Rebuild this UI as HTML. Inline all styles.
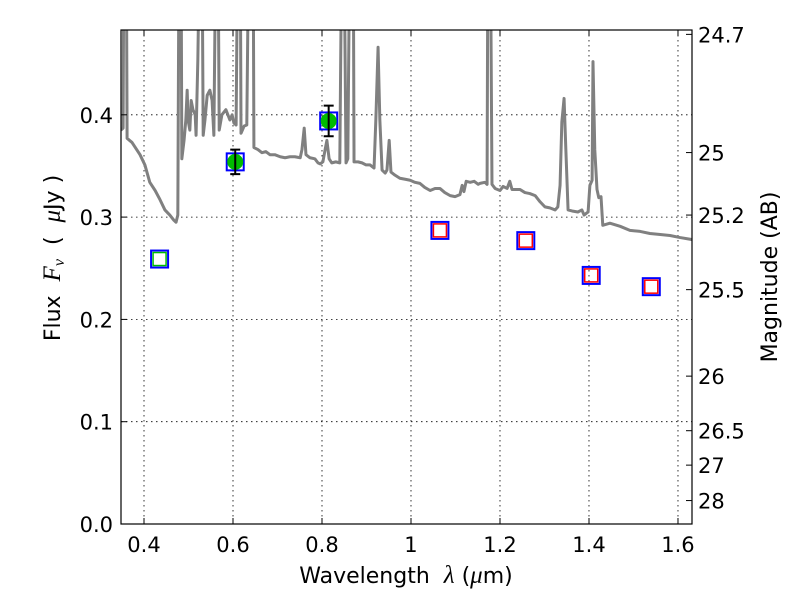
<!DOCTYPE html>
<html><head><meta charset="utf-8"><style>
body{margin:0;background:#fff;}
svg text{font-family:"DejaVu Sans","Liberation Sans",sans-serif;}
</style></head><body>
<svg id="chart" width="800" height="600" xmlns="http://www.w3.org/2000/svg"></svg>
<script>
const xTicks=[0.4,0.6,0.8,1.0,1.2,1.4,1.6];
const xTickLabels=["0.4","0.6","0.8","1","1.2","1.4","1.6"];
const yTicks=[0,0.1,0.2,0.3,0.4];
const yTickLabels=["0.0","0.1","0.2","0.3","0.4"];
const magTicks=[24.7,25,25.2,25.5,26,26.5,27,28];
const magTickLabels=["24.7","25","25.2","25.5","26","26.5","27","28"];
const specWave=[0.348,0.353,0.355,0.360,0.362,0.373,0.391,0.402,0.413,0.425,0.436,0.447,0.458,0.467,0.472,0.476,0.479,0.483,0.485,0.490,0.494,0.497,0.499,0.503,0.506,0.510,0.515,0.517,0.521,0.526,0.530,0.533,0.537,0.542,0.548,0.553,0.557,0.562,0.566,0.569,0.575,0.584,0.593,0.598,0.602,0.607,0.611,0.616,0.618,0.625,0.631,0.636,0.640,0.645,0.647,0.656,0.665,0.674,0.683,0.694,0.706,0.717,0.728,0.739,0.751,0.755,0.760,0.764,0.773,0.784,0.791,0.796,0.802,0.807,0.811,0.816,0.822,0.831,0.840,0.845,0.849,0.854,0.858,0.863,0.870,0.872,0.881,0.890,0.899,0.908,0.917,0.921,0.926,0.930,0.935,0.942,0.946,0.951,0.955,0.964,0.975,0.987,0.998,1.009,1.020,1.031,1.043,1.054,1.065,1.076,1.088,1.099,1.110,1.115,1.119,1.124,1.133,1.142,1.151,1.155,1.166,1.171,1.173,1.178,1.182,1.189,1.200,1.207,1.216,1.222,1.227,1.234,1.245,1.256,1.267,1.279,1.290,1.301,1.312,1.324,1.330,1.335,1.339,1.344,1.348,1.353,1.362,1.375,1.384,1.389,1.398,1.402,1.407,1.409,1.413,1.418,1.422,1.427,1.431,1.447,1.470,1.492,1.515,1.537,1.560,1.582,1.605,1.632];
const specFlux=[0.385,0.387,0.6,0.6,0.377,0.373,0.361,0.351,0.334,0.326,0.317,0.307,0.302,0.297,0.295,0.302,0.6,0.6,0.357,0.375,0.395,0.424,0.395,0.385,0.414,0.405,0.400,0.380,0.454,0.6,0.6,0.380,0.395,0.419,0.424,0.414,0.380,0.6,0.6,0.385,0.400,0.405,0.395,0.400,0.392,0.390,0.6,0.6,0.382,0.389,0.390,0.6,0.6,0.6,0.368,0.366,0.363,0.364,0.361,0.361,0.359,0.358,0.359,0.359,0.358,0.366,0.387,0.361,0.358,0.357,0.353,0.352,0.354,0.366,0.375,0.357,0.353,0.354,0.353,0.6,0.6,0.353,0.357,0.6,0.6,0.354,0.354,0.353,0.351,0.351,0.348,0.395,0.466,0.395,0.346,0.343,0.346,0.375,0.344,0.341,0.338,0.337,0.336,0.334,0.333,0.329,0.326,0.328,0.328,0.324,0.321,0.320,0.322,0.331,0.325,0.335,0.334,0.335,0.332,0.333,0.334,0.332,0.6,0.6,0.332,0.328,0.326,0.330,0.328,0.335,0.327,0.327,0.327,0.324,0.323,0.321,0.315,0.310,0.309,0.307,0.310,0.331,0.393,0.416,0.366,0.307,0.306,0.305,0.307,0.302,0.305,0.331,0.336,0.452,0.366,0.327,0.319,0.320,0.292,0.294,0.291,0.287,0.286,0.284,0.283,0.282,0.280,0.278];
const detWave=[0.605,0.815];
const detFlux=[0.354,0.394];
const detErr=[0.012,0.015];
const greenSqWave=[0.435];
const greenSqFlux=[0.259];
const redSqWave=[1.065,1.258,1.405,1.540];
const redSqFlux=[0.287,0.277,0.243,0.232];

const L=121,R=692,T=30,B=524;
const xmin=0.3483,xmax=1.6315,ymin=0,ymax=0.4829;
const X=v=>L+(v-xmin)/(xmax-xmin)*(R-L);
const Y=v=>B-(v-ymin)/(ymax-ymin)*(B-T);
const svg=document.getElementById('chart');
const NS="http://www.w3.org/2000/svg";
function mk(tag,attrs,parent){const e=document.createElementNS(NS,tag);for(const k in attrs)e.setAttribute(k,attrs[k]);(parent||svg).appendChild(e);return e;}

const defs=mk('defs',{});
const cp=mk('clipPath',{id:'clip'},defs);
mk('rect',{x:L,y:T,width:R-L,height:B-T},cp);

const grid=mk('g',{});


xTicks.forEach(v=>{mk('line',{x1:X(v),x2:X(v),y1:T,y2:B,stroke:'#000','stroke-width':0.8,'stroke-dasharray':'1.5,3.5'},grid);});
yTicks.forEach(v=>{mk('line',{x1:L,x2:R,y1:Y(v),y2:Y(v),stroke:'#000','stroke-width':0.8,'stroke-dasharray':'1.5,3.5'},grid);});

const spec=mk('polyline',{points:specWave.map((w,i)=>X(w)+','+Y(specFlux[i])).join(' '),fill:'none',stroke:'#808080','stroke-width':3,'clip-path':'url(#clip)','stroke-linejoin':'round'});



function box(cx,cy,s,col,w,name){const r=mk('rect',{x:cx-s/2,y:cy-s/2,width:s,height:s,fill:'none',stroke:col,'stroke-width':w});}
detWave.forEach((w,i)=>{
  const cx=X(w),cy=Y(detFlux[i]);
  box(cx,cy,17,'#0000ff',2,'model-flux-box');
  const c=mk('circle',{cx:cx,cy:cy,r:8,fill:'#00bb00'});
  
  
  const y1=Y(detFlux[i]+detErr[i]),y2=Y(detFlux[i]-detErr[i]);
  const eb=mk('path',{d:`M${cx},${y1}V${y2}M${cx-5},${y1}H${cx+5}M${cx-5},${y2}H${cx+5}`,stroke:'#000','stroke-width':2,fill:'none'});
  
  
});
greenSqWave.forEach((w,i)=>{const cx=X(w),cy=Y(greenSqFlux[i]);box(cx,cy,17,'#0000ff',2,'model-flux-box');box(cx,cy,13,'#00bb00',1.5,'upper-limit-green');});
redSqWave.forEach((w,i)=>{const cx=X(w),cy=Y(redSqFlux[i]);box(cx,cy,17,'#0000ff',2,'model-flux-box');box(cx,cy,13,'#ff0000',1.5,'upper-limit-red');});

const frame=mk('rect',{x:L,y:T,width:R-L,height:B-T,fill:'none',stroke:'#000','stroke-width':1.2});



xTicks.forEach((v,i)=>{
  mk('line',{x1:X(v),x2:X(v),y1:B,y2:B-6,stroke:'#000'});
  mk('line',{x1:X(v),x2:X(v),y1:T,y2:T+6,stroke:'#000'});
  const t=mk('text',{x:X(v),y:B+28,'font-size':21,'text-anchor':'middle'});t.textContent=xTickLabels[i];
  
  
});
yTicks.forEach((v,i)=>{
  mk('line',{x1:L,x2:L+6,y1:Y(v),y2:Y(v),stroke:'#000'});
  const t=mk('text',{x:L-8,y:Y(v)+8,'font-size':21,'text-anchor':'end'});t.textContent=yTickLabels[i];
  
  
});
magTicks.forEach((m,i)=>{
  const f=Math.pow(10,(23.9-m)/2.5);const y=Y(f);
  mk('line',{x1:R,x2:R-6,y1:y,y2:y,stroke:'#000'});
  const t=mk('text',{x:R+6,y:y+8,'font-size':21});t.textContent=magTickLabels[i];
  
  
});
const xt=mk('text',{x:406,y:583,'font-size':22,'text-anchor':'middle'});
xt.innerHTML='Wavelength\u00a0\u00a0<tspan font-family="Liberation Serif" font-style="italic" font-size="25">λ</tspan>\u00a0(<tspan font-family="Liberation Serif" font-style="italic" font-size="25">μ</tspan>m)';


const yt=mk('text',{x:0,y:0,'font-size':22,'text-anchor':'middle',transform:'translate(60,258) rotate(-90)'});
yt.innerHTML='Flux\u00a0\u00a0<tspan font-family="Liberation Serif" font-style="italic" font-size="25">F</tspan><tspan font-family="Liberation Serif" font-style="italic" font-size="16" dy="4">ν</tspan><tspan dy="-4">\u00a0\u00a0(\u00a0\u00a0</tspan><tspan font-family="Liberation Serif" font-style="italic" font-size="25">μ</tspan>Jy\u00a0)';


const rt=mk('text',{x:0,y:0,'font-size':22,'text-anchor':'middle',transform:'translate(777,277) rotate(-90)'});
rt.textContent='Magnitude (AB)';


</script>
</body></html>
